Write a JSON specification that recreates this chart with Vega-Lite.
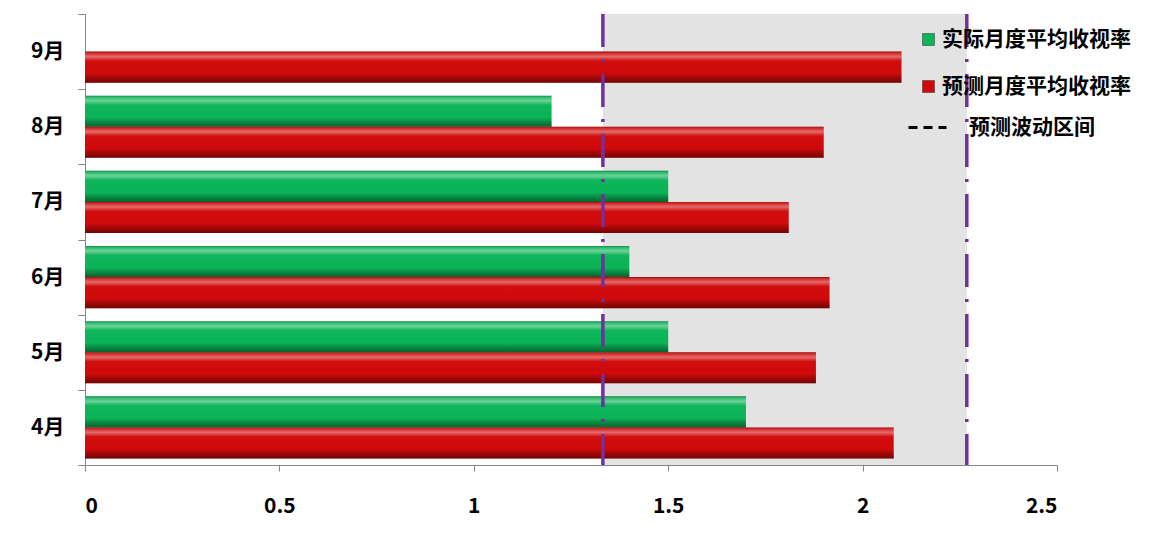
{
  "$schema": "https://vega.github.io/schema/vega-lite/v6.json",
  "width": 972,
  "height": 451,
  "autosize": "none",
  "padding": {"left": 85, "top": 14, "right": 101, "bottom": 72},
  "background": "white",
  "config": {
    "view": {"stroke": null},
    "font": "Noto Sans CJK SC"
  },
  "datasets": {
    "bars": [
      {"month": "4月", "series": "实际月度平均收视率", "value": 1.70},
      {"month": "4月", "series": "预测月度平均收视率", "value": 2.08},
      {"month": "5月", "series": "实际月度平均收视率", "value": 1.50},
      {"month": "5月", "series": "预测月度平均收视率", "value": 1.88},
      {"month": "6月", "series": "实际月度平均收视率", "value": 1.40},
      {"month": "6月", "series": "预测月度平均收视率", "value": 1.915},
      {"month": "7月", "series": "实际月度平均收视率", "value": 1.50},
      {"month": "7月", "series": "预测月度平均收视率", "value": 1.81},
      {"month": "8月", "series": "实际月度平均收视率", "value": 1.20},
      {"month": "8月", "series": "预测月度平均收视率", "value": 1.90},
      {"month": "9月", "series": "预测月度平均收视率", "value": 2.10}
    ],
    "band": [
      {"lo": 1.332, "hi": 2.268, "name": "预测波动区间"}
    ]
  },
  "layer": [
    {
      "data": {"name": "band"},
      "mark": {"type": "rect", "color": "#e3e3e3"},
      "encoding": {
        "x": {"field": "lo", "type": "quantitative", "scale": {"domain": [0, 2.5], "nice": false}},
        "x2": {"field": "hi"}
      }
    },
    {
      "data": {"name": "bars"},
      "mark": {"type": "bar"},
      "encoding": {
        "y": {
          "field": "month", "type": "nominal",
          "sort": ["9月", "8月", "7月", "6月", "5月", "4月"],
          "scale": {"paddingInner": 0, "paddingOuter": 0},
          "axis": {
            "title": null, "tickBand": "extent", "tickSize": 7, "labelPadding": 14,
            "labelFontSize": 21, "labelFontWeight": "bold", "labelColor": "#000",
            "domainColor": "#868686", "tickColor": "#868686"
          }
        },
        "yOffset": {
          "field": "series", "type": "nominal",
          "sort": ["实际月度平均收视率", "预测月度平均收视率"],
          "scale": {"paddingInner": 0, "paddingOuter": 0.21}
        },
        "x": {
          "field": "value", "type": "quantitative",
          "scale": {"domain": [0, 2.5], "nice": false},
          "axis": {
            "title": null, "values": [0, 0.5, 1, 1.5, 2, 2.5], "format": "~g",
            "grid": false, "tickSize": 6, "labelPadding": 24,
            "labelFontSize": 21, "labelFontWeight": "bold", "labelColor": "#000",
            "domainColor": "#868686", "tickColor": "#868686"
          }
        },
        "color": {
          "field": "series", "type": "nominal",
          "sort": ["实际月度平均收视率", "预测月度平均收视率"],
          "scale": {"domain": ["实际月度平均收视率", "预测月度平均收视率"], "range": ["#0bb457", "#d00a0a"]},
          "legend": {
            "title": null, "orient": "none", "legendX": 833, "legendY": 15,
            "padding": 0, "symbolType": "square", "symbolSize": 144,
            "symbolStrokeColor": "#333", "symbolStrokeWidth": 0.5,
            "labelFontSize": 21, "labelFontWeight": "bold", "labelColor": "#000",
            "labelOffset": 3, "rowPadding": 25, "labelLimit": 400
          }
        }
      }
    },
    {
      "data": {"name": "bars"},
      "mark": {
        "type": "bar",
        "fill": {
          "gradient": "linear", "x1": 0, "y1": 0, "x2": 0, "y2": 1,
          "stops": [
            {"offset": 0, "color": "rgba(0,0,0,0.25)"},
            {"offset": 0.06, "color": "rgba(255,255,255,0.15)"},
            {"offset": 0.16, "color": "rgba(255,255,255,0.4)"},
            {"offset": 0.3, "color": "rgba(255,255,255,0.02)"},
            {"offset": 0.7, "color": "rgba(0,0,0,0)"},
            {"offset": 0.85, "color": "rgba(0,0,0,0.25)"},
            {"offset": 1, "color": "rgba(0,0,0,0.45)"}
          ]
        }
      },
      "encoding": {
        "y": {"field": "month", "type": "nominal", "sort": ["9月", "8月", "7月", "6月", "5月", "4月"]},
        "yOffset": {"field": "series", "type": "nominal", "sort": ["实际月度平均收视率", "预测月度平均收视率"]},
        "x": {"field": "value", "type": "quantitative"}
      }
    },
    {
      "data": {"name": "band"},
      "mark": {"type": "rule", "color": "#000", "opacity": 0},
      "encoding": {
        "x": {"field": "lo", "type": "quantitative"},
        "strokeDash": {
          "field": "name", "type": "nominal",
          "scale": {"domain": ["预测波动区间"], "range": [[9, 6]]},
          "legend": {
            "title": null, "orient": "none", "legendX": 822, "legendY": 93,
            "padding": 0, "symbolType": "stroke", "symbolSize": 1444,
            "symbolStrokeWidth": 3, "symbolOpacity": 1, "symbolStrokeColor": "#000",
            "labelFontSize": 21, "labelFontWeight": "bold", "labelColor": "#000",
            "labelOffset": 21, "labelLimit": 400
          }
        }
      }
    },
    {
      "data": {"name": "band"},
      "transform": [{"fold": ["lo", "hi"], "as": ["edge", "pos"]}],
      "mark": {"type": "rule", "strokeWidth": 3.5, "color": "#7030a0", "strokeDash": [33, 12, 3, 12]},
      "encoding": {
        "x": {"field": "pos", "type": "quantitative"}
      }
    }
  ]
}
